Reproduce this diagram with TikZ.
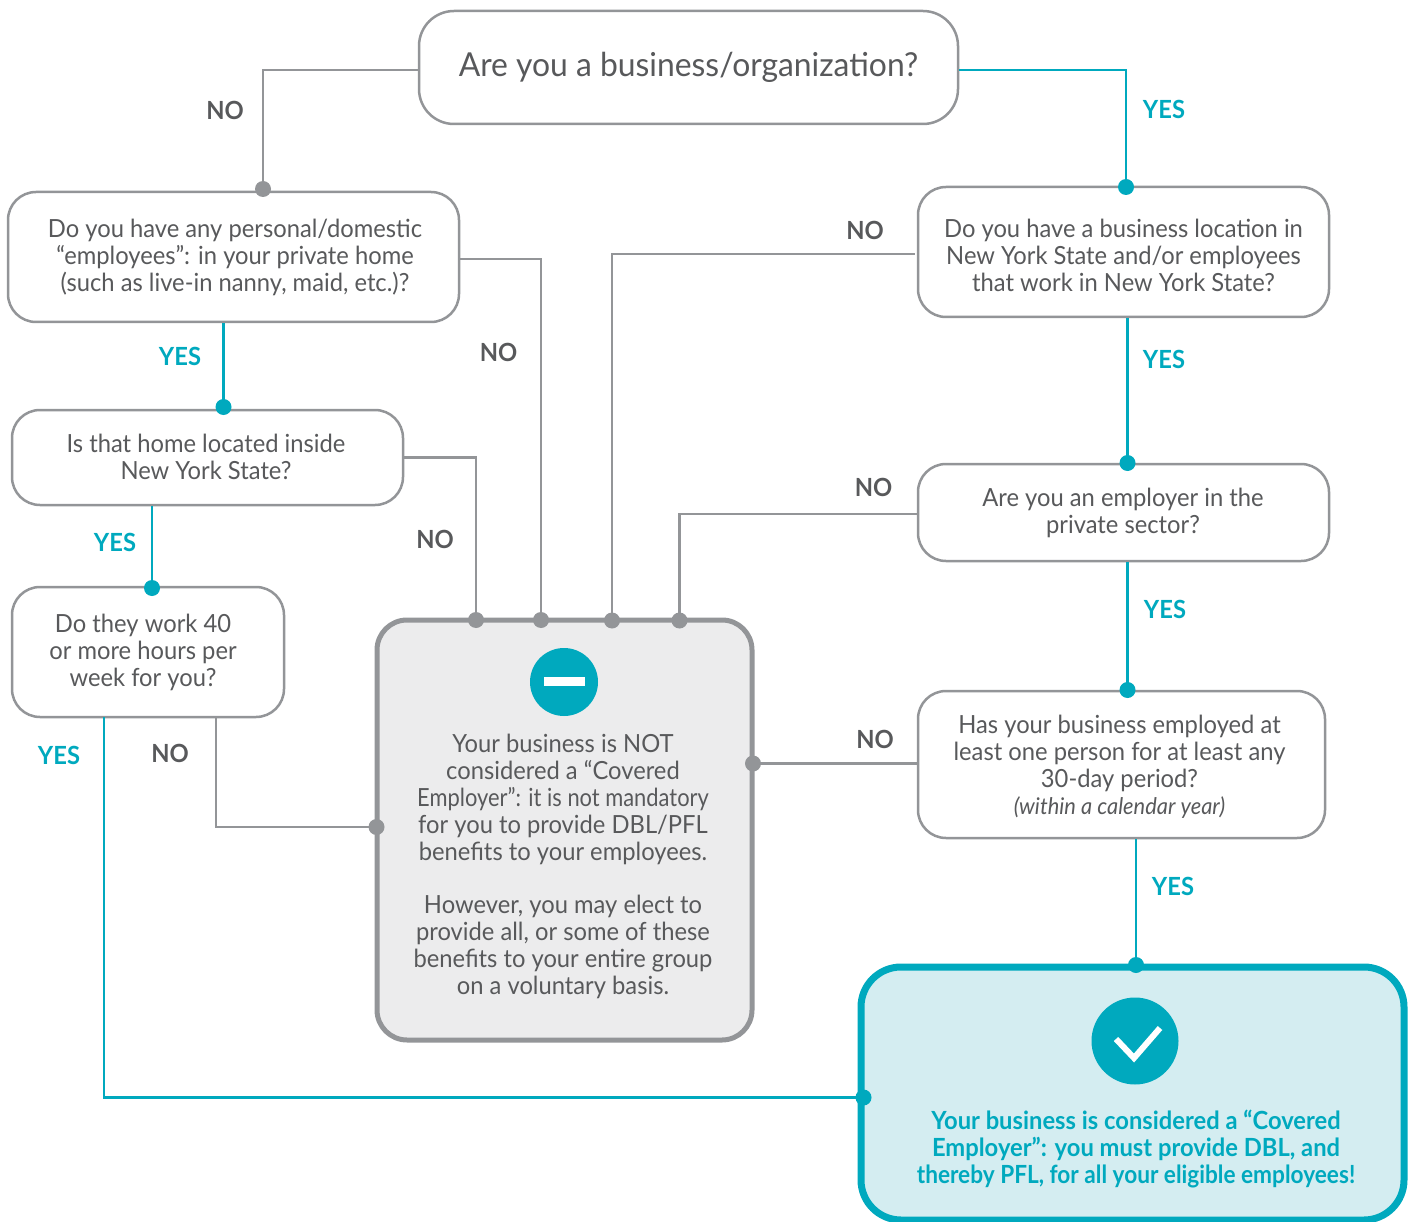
\documentclass[tikz,border=0pt]{standalone}
\usepackage{fontspec}
\setmainfont{Lato}[FakeStretch=0.95]
\newfontfamily\tightf{Lato}[FakeStretch=0.875]
\newfontfamily\tightb{Lato}[FakeStretch=0.905]
\newfontfamily\bigf{Lato}[FakeStretch=0.965]
\definecolor{tx}{HTML}{58595B}
\definecolor{gr}{HTML}{939598}
\definecolor{te}{HTML}{00A9BE}
\definecolor{negf}{HTML}{ECECED}
\definecolor{posf}{HTML}{D4EDF1}
\tikzset{
 x=1pt,y=-1pt,
 qbox/.style={draw=gr,line width=2.5pt,fill=white,rounded corners=28pt,inner sep=0pt},
 body/.style={align=center,text=tx,inner sep=0pt,font=\fontsize{25}{27}\selectfont},
 glink/.style={draw=gr,line width=2.5pt},
 tlink/.style={draw=te,line width=2.5pt},
 gdot/.style={circle,fill=gr,minimum size=16pt,inner sep=0pt},
 tdot/.style={circle,fill=te,minimum size=16pt,inner sep=0pt},
 nolab/.style={text=tx,inner sep=0pt,font=\fontsize{25}{27}\selectfont\bfseries},
 yeslab/.style={text=te,inner sep=0pt,font=\fontsize{25}{27}\selectfont\bfseries},
}
\begin{document}
\begin{tikzpicture}
\useasboundingbox (0,0) rectangle (1413,1222);
% boxes
\node[qbox,minimum width=539pt,minimum height=113pt,rounded corners=35pt] (q0) at (688.5,67.5) {};
\node[qbox,minimum width=451pt,minimum height=130pt] (q1) at (233.5,257) {};
\node[qbox,minimum width=391pt,minimum height=95pt] (q2) at (207.5,457.5) {};
\node[qbox,minimum width=272pt,minimum height=130pt] (q3) at (148,652) {};
\node[qbox,minimum width=411pt,minimum height=130pt] (r1) at (1123.5,252) {};
\node[qbox,minimum width=411pt,minimum height=97pt] (r2) at (1123.5,512.5) {};
\node[qbox,minimum width=407pt,minimum height=147pt] (r3) at (1121.5,764.5) {};
\node[draw=gr,line width=5pt,fill=negf,rounded corners=30pt,minimum width=375pt,minimum height=420pt,inner sep=0pt] (neg) at (564.5,830) {};
\node[draw=te,line width=7pt,fill=posf,rounded corners=40pt,minimum width=543pt,minimum height=253pt,inner sep=0pt] (pos) at (1132.5,1093.5) {};
% box texts
\node[body,font=\fontsize{33}{36}\bigf] (q0t) at (688.5,67.5) {Are you a business/organization?};
\node[body] (q1t) at (235,257) {Do you have any personal/domestic\\“employees”: in your private home\\(such as live-in nanny, maid, etc.)?};
\node[body] (q2t) at (206,457) {Is that home located inside\\New York State?};
\node[body] (q3t) at (143,652.5) {Do they work 40\\or more hours per\\week for you?};
\node[body] (r1t) at (1123.5,255) {Do you have a business location in\\New York State and/or employees\\that work in New York State?};
\node[body] (r2t) at (1123,513) {Are you an employer in the\\private sector?};
\node[body] (r3t) at (1119.5,767) {Has your business employed at\\least one person for at least any\\30-day period?\\{\fontsize{23}{27}\selectfont\itshape (within a calendar year)}};
\node[body] (negt) at (563,866.5) {Your business is NOT\\considered a “Covered\\{\tightf Employer”: it is not mandatory}\\for you to provide DBL/PFL\\benefits to your employees.\\[26pt]However, you may elect to\\provide all, or some of these\\benefits to your entire group\\on a voluntary basis.};
\node[body,text=te,font=\fontsize{25}{27}\selectfont\bfseries] (post) at (1136,1149) {Your business is considered a “Covered\\Employer”: you must provide DBL, and\\{\tightb\bfseries thereby PFL, for all your eligible employees!}};
% icons
\node[circle,fill=te,minimum size=68pt,inner sep=0pt] (negi) at (564,682) {};
\node[fill=white,minimum width=41pt,minimum height=9pt,inner sep=0pt] (negb) at (564.5,681.5) {};
\node[circle,fill=te,minimum size=87pt,inner sep=0pt] (posi) at (1135,1041) {};
\draw[white,line width=6pt] (1116,1039) -- (1134,1058) -- (1160,1028);
% connection dots
\node[gdot] (d1) at (263,189) {};
\node[tdot] (d2) at (1126,187) {};
\node[tdot] (d3) at (223.5,407) {};
\node[tdot] (d4) at (152,588) {};
\node[gdot] (d5) at (476,620) {};
\node[gdot] (d6) at (541,620) {};
\node[gdot] (d7) at (612,620.5) {};
\node[gdot] (d8) at (679.5,620.5) {};
\node[gdot] (d9) at (376.5,827) {};
\node[gdot] (d10) at (753,763.5) {};
\node[tdot] (d11) at (1127.5,463) {};
\node[tdot] (d12) at (1127.5,690) {};
\node[tdot] (d13) at (1136,965) {};
\node[tdot] (d14) at (863.5,1097.5) {};
% connectors
\draw[glink] ([yshift=-2.5pt]q0.west) -| (d1.center);
\draw[tlink] ([yshift=-2.5pt]q0.east) -| (d2.center);
\draw[tlink] (q1.south -| d3) -- (d3.center);
\draw[glink] ([yshift=-2pt]q1.east) -| (d6.center);
\draw[glink] (q2.east) -| (d5.center);
\draw[tlink] (q2.south -| d4) -- (d4.center);
\draw[glink] (d7.center) |- ([yshift=-2pt,xshift=-2pt]r1.west);
\draw[tlink] (r1.south -| d11) -- (d11.center);
\draw[glink] (d8.center) |- ([yshift=-1.5pt]r2.west);
\draw[tlink] (r2.south -| d12) -- (d12.center);
\draw[glink] (d10.center) -- (r3.west |- d10);
\draw[tlink] (r3.south -| d13) -- (d13.center);
\coordinate (c1) at (104,717);
\coordinate (c2) at (216,717);
\draw[tlink] (c1) |- (d14.center);
\draw[glink] (c2) |- (d9.center);
% labels
\node[nolab] (n1) at (225,110) {NO};
\node[yeslab] (y1) at (1164,109) {YES};
\node[yeslab] (y2) at (180,356) {YES};
\node[nolab] (n2) at (498.5,352) {NO};
\node[nolab] (n3) at (435,539) {NO};
\node[yeslab] (y3) at (115,542) {YES};
\node[yeslab] (y4) at (59,755) {YES};
\node[nolab] (n4) at (170,753) {NO};
\node[nolab] (n5) at (865,230) {NO};
\node[yeslab] (y5) at (1164,359) {YES};
\node[nolab] (n6) at (873.5,487) {NO};
\node[yeslab] (y6) at (1165,609) {YES};
\node[nolab] (n7) at (875,739) {NO};
\node[yeslab] (y7) at (1173,886) {YES};
\end{tikzpicture}
\end{document}
